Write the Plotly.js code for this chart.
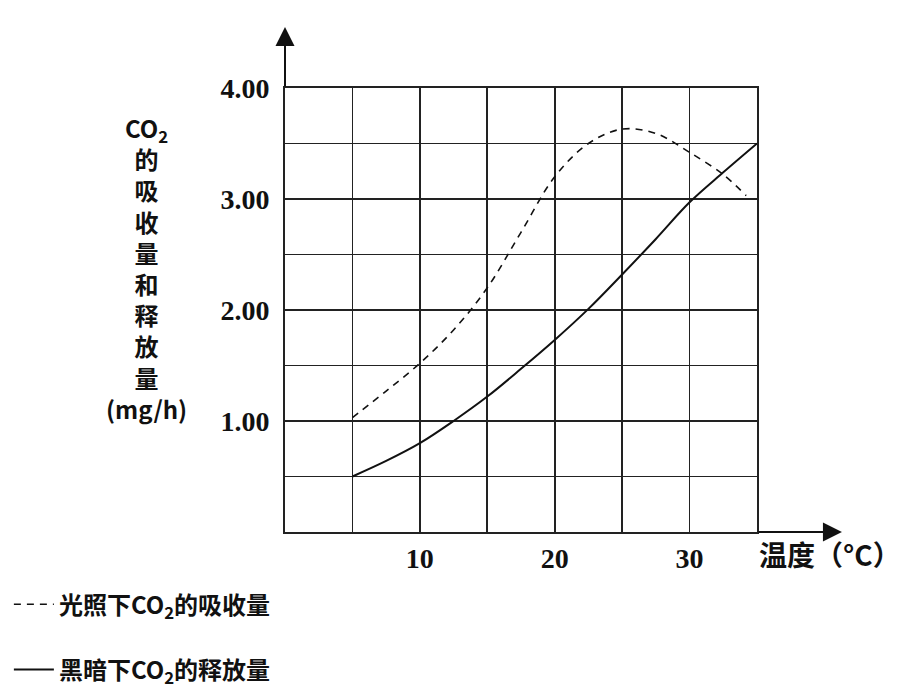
<!DOCTYPE html>
<html>
<head>
<meta charset="utf-8">
<script src="https://cdn.plot.ly/plotly-3.0.1.min.js"></script>
<style>
  html, body { margin: 0; padding: 0; background: #fff; }
  #chart { width: 920px; height: 690px; }
</style>
</head>
<body>
<div id="chart"></div>
<script>
// 温度 (°C)
var wenduGuang = [5, 7.5, 10, 12.5, 15, 17.5, 20, 22.5, 25, 27.5, 30, 32.5, 34.2];
var wenduAn = [5, 7.5, 10, 12.5, 15, 17.5, 20, 22.5, 25, 27.5, 30, 32.5, 35];

// 光照下CO2的吸收量 (虚线)
var xishouliang = [1.03, 1.27, 1.52, 1.82, 2.2, 2.7, 3.2, 3.5, 3.63, 3.59, 3.42, 3.22, 3.03];
// 黑暗下CO2的释放量 (实线)
var shifangliang = [0.5, 0.64, 0.8, 1.0, 1.22, 1.47, 1.73, 2.01, 2.32, 2.64, 2.97, 3.24, 3.5];

var xTickVals = [0, 5, 10, 15, 20, 25, 30, 35];
var xTickText = ['', '', '10', '', '20', '', '30', ''];
var yTickVals = [0, 0.5, 1, 1.5, 2, 2.5, 3, 3.5, 4];
var yTickText = ['', '', '1.00', '', '2.00', '', '3.00', '', '4.00'];

var mingcheng = ['光照下CO<sub>2</sub>的吸收量', '黑暗下CO<sub>2</sub>的释放量'];

var cjk = '"Noto Sans CJK SC", "Noto Sans", sans-serif';
var shuzi = '"Liberation Serif", "DejaVu Serif", serif';

var traces = [
  {
    x: wenduGuang, y: xishouliang, name: mingcheng[0],
    type: 'scatter', mode: 'lines', legendgroup: 'a',
    line: { color: '#111', width: 1.6, dash: '7px,6px', shape: 'spline', smoothing: 1 }
  },
  {
    x: wenduAn, y: shifangliang, name: mingcheng[1],
    type: 'scatter', mode: 'lines', legendgroup: 'b',
    line: { color: '#111', width: 2, shape: 'spline', smoothing: 1 }
  }
];

var layout = {
  width: 920, height: 690,
  margin: { l: 285, r: 163, t: 88, b: 158, autoexpand: false },
  paper_bgcolor: '#fff', plot_bgcolor: '#fff',
  showlegend: true,
  legend: {
    x: -0.585, xanchor: 'left', y: -0.113, yanchor: 'top',
    font: { family: cjk, size: 24, color: '#111', weight: 'bold' },
    traceorder: 'grouped', tracegroupgap: 31, itemwidth: 40,
    bgcolor: 'rgba(0,0,0,0)'
  },
  xaxis: {
    range: [0, 35], tickmode: 'array', tickvals: xTickVals, ticktext: xTickText,
    showgrid: true, gridcolor: '#222', gridwidth: 1.8, zeroline: false,
    showline: true, linecolor: '#222', linewidth: 2, mirror: true,
    ticks: '', ticklabelstandoff: 0, automargin: false,
    tickfont: { family: shuzi, size: 28, color: '#111', weight: 'bold' }
  },
  yaxis: {
    range: [0, 4], tickmode: 'array', tickvals: yTickVals, ticktext: yTickText,
    showgrid: true, gridcolor: '#222', gridwidth: 1.8, zeroline: false,
    showline: true, linecolor: '#222', linewidth: 2, mirror: true,
    ticks: '', ticklabelstandoff: 8, automargin: false,
    tickfont: { family: shuzi, size: 28, color: '#111', weight: 'bold' }
  },
  annotations: [
    // 坐标轴箭头
    { x: 0, y: 4.55, xref: 'x', yref: 'y', ax: 0, ay: 4, axref: 'x', ayref: 'y',
      text: '', showarrow: true, arrowhead: 2, arrowsize: 1.9, arrowwidth: 2, arrowcolor: '#111' },
    { x: 41.3, y: 0, xref: 'x', yref: 'y', ax: 35, ay: 0, axref: 'x', ayref: 'y',
      text: '', showarrow: true, arrowhead: 2, arrowsize: 1.9, arrowwidth: 2, arrowcolor: '#111' },
    // y 轴标题
    { x: -0.293, y: 0.955, xref: 'paper', yref: 'paper', xanchor: 'center', yanchor: 'top',
      showarrow: false, align: 'center',
      text: 'CO<sub>2</sub><br>的<br>吸<br>收<br>量<br>和<br>释<br>放<br>量<br>(mg/h)',
      font: { family: cjk, size: 24, color: '#111', weight: 'bold' } },
    // x 轴标题
    { x: 1.0, y: -0.05, xref: 'paper', yref: 'paper', xanchor: 'left', yanchor: 'middle',
      showarrow: false, text: '温度（°C）',
      font: { family: cjk, size: 28, color: '#111', weight: 'bold' } }
  ]
};

Plotly.newPlot('chart', traces, layout, { staticPlot: true });
</script>
</body>
</html>
